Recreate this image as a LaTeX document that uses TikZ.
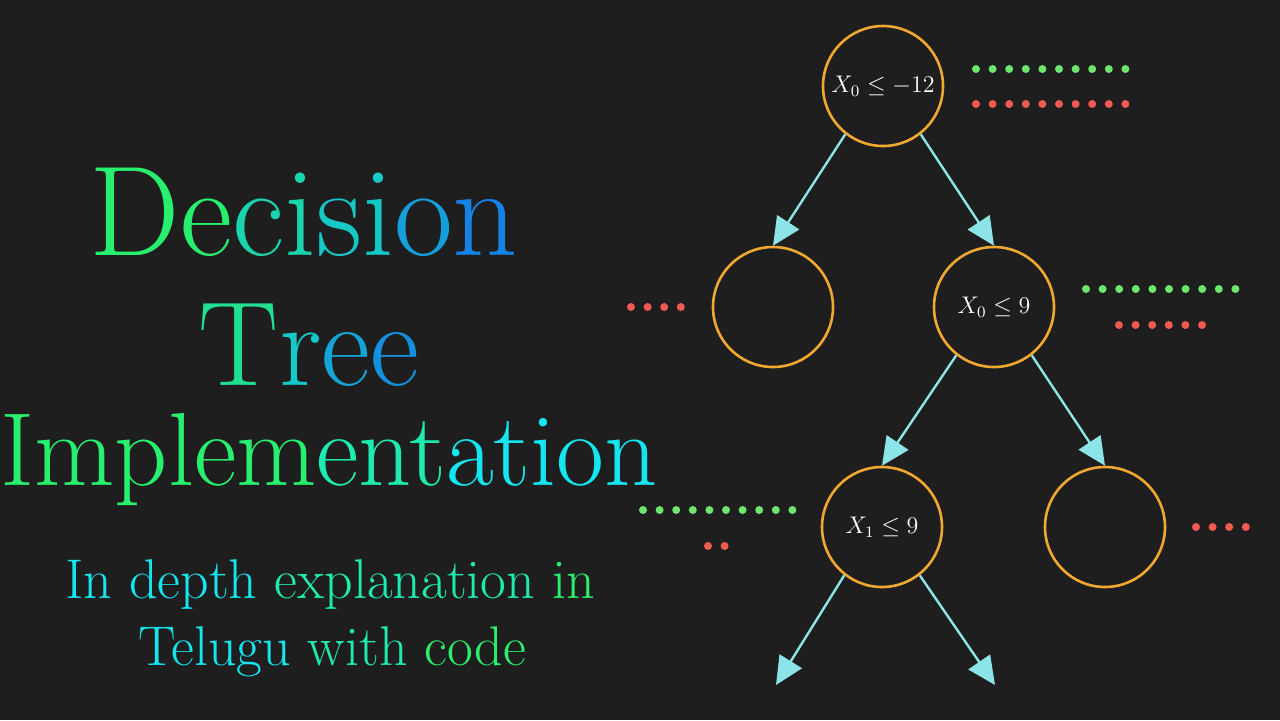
\documentclass[tikz,border=0pt]{standalone}
\usepackage{tikz}
\usetikzlibrary{positioning,arrows.meta}
\definecolor{bg}{RGB}{30,30,30}
\definecolor{ring}{RGB}{240,168,48}
\definecolor{edge}{RGB}{140,228,232}
\definecolor{gdot}{RGB}{110,230,110}
\definecolor{rdot}{RGB}{240,90,80}
\definecolor{tgreen}{RGB}{40,240,110}
\definecolor{tteal}{RGB}{20,200,200}
\definecolor{tblue}{RGB}{20,130,230}
\definecolor{tcyan}{RGB}{20,230,240}
\tikzset{
  split/.style={circle,draw=ring,line width=1.3pt,minimum size=60pt,inner sep=0pt,text=white,font=\fontsize{12}{14}\selectfont},
  branch/.style={draw=edge,line width=1.2pt,-{Triangle[width=13pt,length=14pt]}},
  title/.style={anchor=base},
  subtitle/.style={font=\fontsize{28}{28}\selectfont,anchor=base}
}
\newcommand{\dotrow}[4]{\foreach \k in {1,...,#3} \fill[#4] ({#1+(\k-1)*16.6},#2) circle (4);}
\begin{document}
\begin{tikzpicture}[x=0.5pt,y=-0.5pt]
\fill[bg] (0,0) rectangle (1280,720);
\useasboundingbox (0,0) rectangle (1280,720);

% title
\node[title,font=\fontsize{64}{64}\selectfont] (ttl1) at (304,255) {\textcolor{tgreen}{De}\textcolor{tteal!70!tgreen}{ci}\textcolor{tteal}{si}\textcolor{tblue!60!tteal}{o}\textcolor{tblue}{n}};
\node[title,font=\fontsize{60}{60}\selectfont] (ttl2) at (309,385) {\textcolor{tteal!40!tgreen}{T}\textcolor{tteal}{r}\textcolor{tteal!50!tblue}{e}\textcolor{tblue!80!tteal}{e}};
\node[title,font=\fontsize{52}{52}\selectfont] (ttl3) at (329,485) {\textcolor{tgreen}{Implem}\textcolor{tgreen!50!tcyan}{ent}\textcolor{tcyan}{ation}};
\node[subtitle] (sub1) at (330,598) {\textcolor{tcyan}{In depth} \textcolor{tcyan!50!tgreen}{explanation} \textcolor{tgreen}{in}};
\node[subtitle] (sub2) at (332,665) {\textcolor{tcyan}{Telugu} \textcolor{tcyan!50!tgreen}{with} \textcolor{tgreen}{code}};

% tree
\node[split] (root) at (883,86) {$X_0\leq-12$};
\node[split] (lft) at (773,307) {};
\node[split] (mid) at (994,307) {$X_0\leq9$};
\node[split] (low) at (882,527) {$X_1\leq9$};
\node[split] (rgt) at (1105,527) {};
\coordinate (endA) at (776,685);
\coordinate (endB) at (995,685);

\draw[branch] (root.-128) -- (lft.north);
\draw[branch] (root.-52) -- (mid.north);
\draw[branch] (mid.-128) -- (low.north);
\draw[branch] (mid.-52) -- (rgt.north);
\draw[branch] (low.-128) -- (endA);
\draw[branch] (low.-52) -- (endB);

% samples
\dotrow{976}{69}{10}{gdot}
\dotrow{976}{104}{10}{rdot}
\dotrow{1086}{289}{10}{gdot}
\dotrow{1119}{325}{6}{rdot}
\dotrow{631}{307}{4}{rdot}
\dotrow{643}{510}{10}{gdot}
\dotrow{708}{546}{2}{rdot}
\dotrow{1196}{527}{4}{rdot}
\end{tikzpicture}
\end{document}
